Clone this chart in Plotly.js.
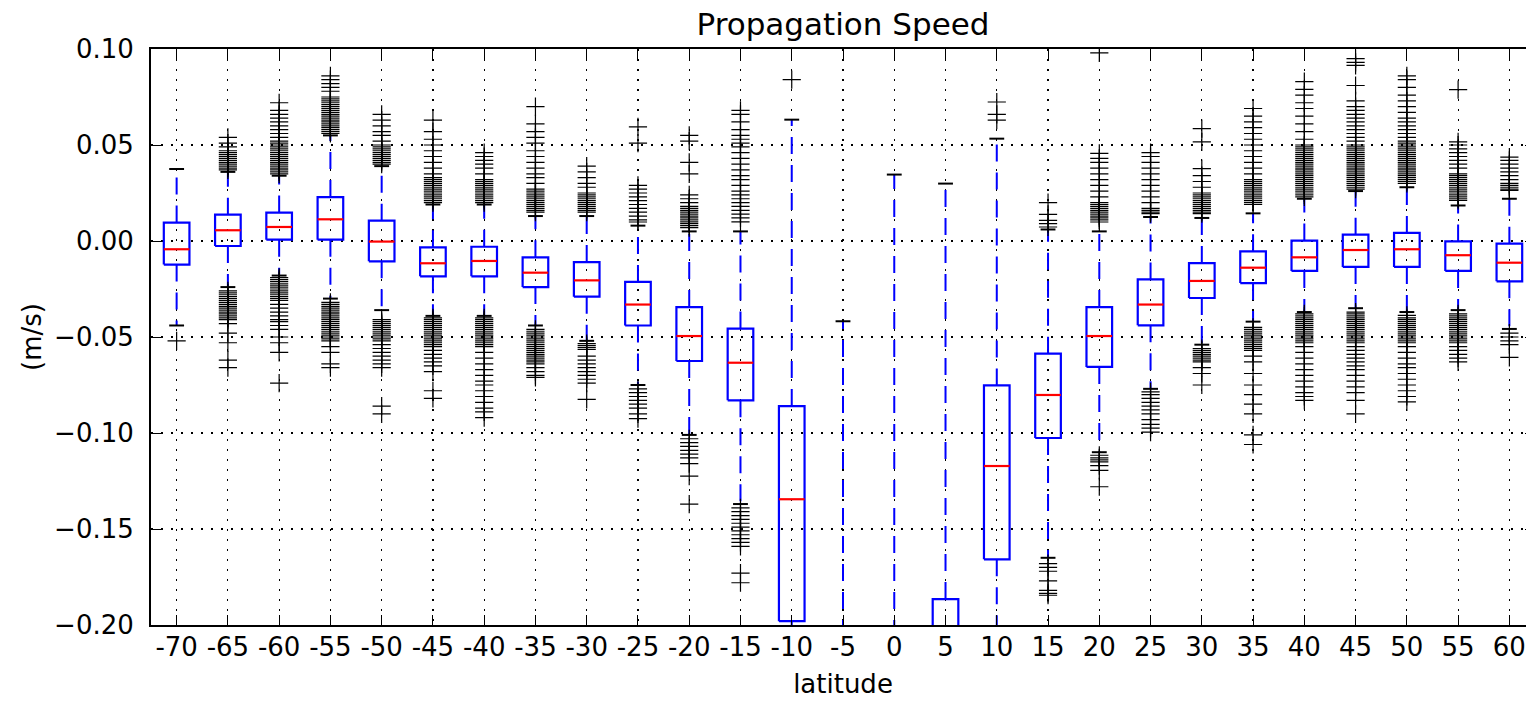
<!DOCTYPE html>
<html>
<head>
<meta charset="utf-8">
<script src="https://cdn.plot.ly/plotly-3.0.1.min.js"></script>
<style>
html,body{margin:0;padding:0;overflow:hidden;background:#fff;}
#chart{width:1535px;height:702px;}
</style>
</head>
<body>
<div id="chart"></div>
<script>
// ---- data (m/s) ----
const categories = ['-70','-65','-60','-55','-50','-45','-40','-35','-30','-25','-20','-15','-10','-5','0','5','10','15','20','25','30','35','40','45','50','55','60'];
const q1Values     = [-0.0123,-0.0026, 0.0007, 0.0007,-0.0106,-0.0184,-0.0184,-0.0240,-0.0290,-0.0440,-0.0625,-0.0830,-0.1980,-0.350,-0.350,-0.280,-0.1658,-0.1026,-0.0656,-0.0439,-0.0297,-0.0219,-0.0156,-0.0135,-0.0135,-0.0156,-0.0210];
const medianValues = [-0.0043, 0.0056, 0.0073, 0.0113,-0.0003,-0.0116,-0.0104,-0.0165,-0.0205,-0.0331,-0.0495,-0.0634,-0.1345,-0.300,-0.300,-0.230,-0.1172,-0.0802,-0.0495,-0.0331,-0.0208,-0.0139,-0.0085,-0.0047,-0.0043,-0.0074,-0.0113];
const q3Values     = [ 0.0096, 0.0137, 0.0148, 0.0229, 0.0106,-0.0033,-0.0030,-0.0085,-0.0110,-0.0213,-0.0344,-0.0456,-0.0860,-0.250,-0.250,-0.1865,-0.0752,-0.0587,-0.0344,-0.0200,-0.0115,-0.0054, 0.0002, 0.0033, 0.0042,-0.0002,-0.0014];
const lowerWhisker = [-0.0440,-0.0240,-0.0180,-0.0300,-0.0360,-0.0390,-0.0390,-0.0440,-0.0520,-0.0750,-0.1010,-0.1370,-0.300,-0.500,-0.500,-0.400,-0.250,-0.1650,-0.1100,-0.0770,-0.0540,-0.0420,-0.0370,-0.0350,-0.0370,-0.0360,-0.0458];
const upperWhisker = [ 0.0375, 0.0360, 0.0340, 0.0550, 0.0390, 0.0190, 0.0190, 0.0130, 0.0130, 0.0080, 0.0050, 0.0050, 0.0632,-0.0418, 0.0346, 0.0299, 0.0533, 0.0060, 0.0050, 0.0125, 0.0120, 0.0144, 0.0220, 0.0260, 0.0280, 0.0185, 0.0220];

const fliers = [
 [-0.052],
 [0.054,0.051,0.049,0.047,0.046,0.045,0.044,0.043,0.042,0.041,0.040,0.039,0.038,0.037,-0.026,-0.027,-0.028,-0.029,-0.030,-0.031,-0.032,-0.033,-0.034,-0.035,-0.036,-0.037,-0.038,-0.039,-0.040,-0.041,-0.043,-0.048,-0.053,-0.062,-0.066],
 [0.072,0.068,0.066,0.064,0.062,0.060,0.058,0.056,0.054,0.052,0.051,0.050,0.049,0.048,0.047,0.046,0.045,0.044,0.043,0.042,0.041,0.040,0.039,0.038,0.037,0.036,0.035,-0.019,-0.020,-0.021,-0.022,-0.023,-0.024,-0.025,-0.026,-0.027,-0.028,-0.029,-0.030,-0.031,-0.033,-0.035,-0.037,-0.039,-0.041,-0.042,-0.044,-0.046,-0.050,-0.053,-0.058,-0.074],
 [0.086,0.084,0.082,0.080,0.078,0.075,0.074,0.073,0.072,0.071,0.070,0.069,0.068,0.067,0.066,0.065,0.064,0.063,0.062,0.061,0.060,0.059,0.058,0.057,0.056,-0.032,-0.033,-0.034,-0.035,-0.036,-0.037,-0.038,-0.039,-0.040,-0.041,-0.042,-0.043,-0.044,-0.045,-0.046,-0.047,-0.048,-0.049,-0.050,-0.051,-0.052,-0.055,-0.058,-0.064,-0.066],
 [0.066,0.063,0.060,0.057,0.055,0.052,0.050,0.049,0.048,0.047,0.046,0.045,0.044,0.043,0.042,0.041,0.040,-0.041,-0.042,-0.043,-0.044,-0.045,-0.046,-0.047,-0.048,-0.049,-0.050,-0.051,-0.052,-0.054,-0.056,-0.058,-0.060,-0.062,-0.064,-0.066,-0.086,-0.090],
 [0.063,0.057,0.053,0.050,0.047,0.044,0.041,0.038,0.035,0.033,0.032,0.031,0.030,0.029,0.028,0.027,0.026,0.025,0.024,0.023,0.022,0.021,0.020,-0.040,-0.041,-0.042,-0.043,-0.044,-0.045,-0.046,-0.047,-0.048,-0.049,-0.050,-0.051,-0.052,-0.053,-0.054,-0.055,-0.057,-0.059,-0.061,-0.063,-0.065,-0.068,-0.078,-0.082],
 [0.046,0.044,0.042,0.040,0.038,0.035,0.032,0.031,0.030,0.029,0.028,0.027,0.026,0.025,0.024,0.023,0.022,0.021,0.020,-0.040,-0.041,-0.042,-0.043,-0.044,-0.045,-0.046,-0.047,-0.048,-0.049,-0.050,-0.051,-0.052,-0.053,-0.054,-0.055,-0.058,-0.061,-0.064,-0.067,-0.070,-0.073,-0.075,-0.078,-0.081,-0.084,-0.087,-0.089,-0.092],
 [0.070,0.061,0.057,0.054,0.051,0.047,0.044,0.041,0.038,0.035,0.033,0.030,0.027,0.026,0.025,0.024,0.023,0.022,0.021,0.020,0.019,0.018,0.017,0.016,0.015,-0.046,-0.047,-0.048,-0.049,-0.050,-0.051,-0.052,-0.053,-0.054,-0.055,-0.056,-0.057,-0.058,-0.059,-0.060,-0.061,-0.062,-0.063,-0.064,-0.066,-0.068,-0.070,-0.071],
 [0.039,0.036,0.033,0.030,0.028,0.025,0.024,0.023,0.022,0.021,0.020,0.019,0.018,0.017,0.016,0.015,-0.0535,-0.0545,-0.0555,-0.0565,-0.060,-0.062,-0.064,-0.066,-0.068,-0.070,-0.072,-0.074,-0.0825],
 [0.0594,0.051,0.029,0.027,0.025,0.023,0.021,0.019,0.017,0.015,0.013,0.011,0.0099,-0.077,-0.079,-0.081,-0.083,-0.085,-0.087,-0.090,-0.0925],
 [0.055,0.052,0.041,0.035,0.024,0.022,0.020,0.018,0.017,0.016,0.015,0.014,0.013,0.012,0.011,0.010,0.009,0.008,0.007,-0.103,-0.105,-0.107,-0.109,-0.111,-0.113,-0.116,-0.1225,-0.137],
 [0.068,0.066,0.062,0.058,0.055,0.053,0.051,0.049,0.046,0.043,0.040,0.037,0.034,0.032,0.029,0.026,0.024,0.022,0.020,0.018,0.016,0.014,0.012,0.010,-0.139,-0.141,-0.143,-0.145,-0.147,-0.149,-0.151,-0.153,-0.155,-0.157,-0.159,-0.173,-0.178],
 [0.084],
 [],
 [],
 [],
 [0.0724,0.066,0.063],
 [0.020,0.0139,0.0107,0.009,0.0073,-0.168,-0.170,-0.172,-0.177,-0.182,-0.1835,-0.1845],
 [0.098,0.0456,0.043,0.041,0.038,0.035,0.032,0.029,0.026,0.023,0.020,0.019,0.018,0.017,0.016,0.015,0.014,0.013,0.012,0.011,0.0099,-0.1116,-0.113,-0.114,-0.115,-0.117,-0.1195,-0.128],
 [0.046,0.044,0.041,0.038,0.035,0.032,0.029,0.026,0.023,0.020,0.017,0.016,0.015,0.0143,-0.0786,-0.080,-0.082,-0.084,-0.086,-0.088,-0.090,-0.093,-0.0955,-0.0975,-0.0995],
 [0.0585,0.0516,0.0377,0.034,0.031,0.028,0.025,0.024,0.023,0.022,0.021,0.020,0.019,0.018,0.017,0.016,0.015,0.0143,-0.056,-0.057,-0.058,-0.059,-0.060,-0.061,-0.062,-0.063,-0.066,-0.069,-0.075],
 [0.069,0.065,0.062,0.059,0.056,0.053,0.050,0.047,0.044,0.041,0.038,0.035,0.032,0.031,0.030,0.029,0.028,0.027,0.026,0.025,0.024,0.023,0.022,0.021,0.020,0.019,-0.045,-0.046,-0.047,-0.048,-0.049,-0.050,-0.051,-0.052,-0.053,-0.054,-0.055,-0.056,-0.057,-0.060,-0.063,-0.069,-0.075,-0.080,-0.085,-0.090,-0.101,-0.106],
 [0.083,0.079,0.076,0.072,0.069,0.065,0.061,0.057,0.053,0.050,0.049,0.048,0.047,0.046,0.045,0.044,0.043,0.042,0.041,0.040,0.039,0.038,0.037,0.036,0.035,0.034,0.033,0.032,0.031,0.030,0.029,0.028,0.027,0.026,0.025,0.024,0.023,-0.038,-0.039,-0.040,-0.041,-0.042,-0.043,-0.044,-0.045,-0.046,-0.047,-0.048,-0.049,-0.050,-0.051,-0.052,-0.053,-0.055,-0.058,-0.061,-0.064,-0.067,-0.070,-0.073,-0.076,-0.079,-0.081,-0.083],
 [0.095,0.093,0.0915,0.081,0.073,0.070,0.068,0.066,0.064,0.062,0.060,0.058,0.056,0.054,0.052,0.050,0.049,0.048,0.047,0.046,0.045,0.044,0.043,0.042,0.041,0.040,0.039,0.038,0.037,0.036,0.035,0.034,0.033,0.032,0.031,0.030,0.029,0.028,0.027,-0.037,-0.038,-0.039,-0.040,-0.041,-0.042,-0.043,-0.044,-0.045,-0.046,-0.047,-0.048,-0.049,-0.050,-0.051,-0.052,-0.053,-0.055,-0.057,-0.059,-0.061,-0.063,-0.065,-0.067,-0.070,-0.073,-0.076,-0.079,-0.083,-0.090],
 [0.086,0.084,0.080,0.076,0.073,0.070,0.067,0.064,0.062,0.060,0.058,0.056,0.054,0.052,0.051,0.050,0.049,0.048,0.047,0.046,0.045,0.044,0.043,0.042,0.041,0.040,0.039,0.038,0.037,0.036,0.035,0.034,0.033,0.032,0.031,0.030,-0.0387,-0.040,-0.041,-0.042,-0.043,-0.044,-0.045,-0.046,-0.047,-0.048,-0.049,-0.050,-0.051,-0.052,-0.053,-0.055,-0.058,-0.061,-0.064,-0.066,-0.069,-0.072,-0.075,-0.078,-0.081,-0.0838],
 [0.0788,0.0516,0.050,0.048,0.046,0.044,0.042,0.040,0.038,0.035,0.034,0.033,0.032,0.031,0.030,0.029,0.028,0.027,0.026,0.025,0.024,0.023,0.022,0.0212,-0.038,-0.039,-0.040,-0.041,-0.042,-0.043,-0.044,-0.045,-0.046,-0.047,-0.048,-0.049,-0.050,-0.051,-0.052,-0.053,-0.055,-0.057,-0.059,-0.061,-0.063],
 [0.0437,0.042,0.040,0.038,0.036,0.034,0.032,0.030,0.029,0.028,0.027,0.0264,-0.048,-0.050,-0.052,-0.054,-0.0606]
];

const yTickValues = [-0.20,-0.15,-0.10,-0.05,0.00,0.05,0.10];
const yTickLabels = ['\u22120.20','\u22120.15','\u22120.10','\u22120.05','0.00','0.05','0.10'];

// ---- build marks ----
const HALF_BOX = 0.25, HALF_CAP = 0.145;
const boxX=[], boxY=[], medX=[], medY=[], whiskX=[], whiskY=[], capX=[], capY=[], flX=[], flY=[];
categories.forEach((c,i)=>{
  boxX.push(i-HALF_BOX,i+HALF_BOX,i+HALF_BOX,i-HALF_BOX,i-HALF_BOX,null);
  boxY.push(q1Values[i],q1Values[i],q3Values[i],q3Values[i],q1Values[i],null);
  medX.push(i-HALF_BOX,i+HALF_BOX,null);
  medY.push(medianValues[i],medianValues[i],null);
  whiskX.push(i,i,null,i,i,null);
  whiskY.push(q3Values[i],upperWhisker[i],null,q1Values[i],lowerWhisker[i],null);
  capX.push(i-HALF_CAP,i+HALF_CAP,null,i-HALF_CAP,i+HALF_CAP,null);
  capY.push(upperWhisker[i],upperWhisker[i],null,lowerWhisker[i],lowerWhisker[i],null);
  fliers[i].forEach(v=>{flX.push(i); flY.push(v);});
});

const traces = [
  {type:'scatter',mode:'lines',x:whiskX,y:whiskY,line:{color:'#0000ff',width:2,dash:'17px,11px'},hoverinfo:'skip'},
  {type:'scatter',mode:'lines',x:boxX,y:boxY,line:{color:'#0000ff',width:2.2},hoverinfo:'skip'},
  {type:'scatter',mode:'lines',x:medX,y:medY,line:{color:'#ff0000',width:2.2},hoverinfo:'skip'},
  {type:'scatter',mode:'lines',x:capX,y:capY,line:{color:'#000000',width:2},hoverinfo:'skip'},
  {type:'scatter',mode:'markers',x:flX,y:flY,marker:{symbol:'cross-thin-open',size:13,color:'#000',line:{color:'#000',width:1.2}},hoverinfo:'skip'}
];

const FONT = 'DejaVu Sans, Bitstream Vera Sans, sans-serif';
const layout = {
  width:1535, height:702,
  margin:{l:151, r:0, t:49, b:77},
  paper_bgcolor:'#fff', plot_bgcolor:'#fff',
  showlegend:false,
  font:{family:FONT, size:26, color:'#000'},
  title:{text:'Propagation Speed', font:{family:FONT,size:31,color:'#000'}, x:0.5, xref:'paper', xanchor:'center', y:0.966, yref:'container', yanchor:'middle'},
  xaxis:{
    range:[-0.5, categories.length-0.5],
    tickmode:'array', tickvals:categories.map((c,i)=>i), ticktext:categories,
    ticks:'inside', ticklen:10, tickwidth:1, tickcolor:'#000',
    showline:true, linecolor:'#000', linewidth:2, mirror:'ticks',
    showgrid:true, gridcolor:'#000', gridwidth:1.2, griddash:'2px,8px',
    zeroline:false, ticklabelstandoff:-2,
    tickfont:{family:FONT,size:26,color:'#000'},
    title:{text:'latitude', font:{family:FONT,size:26,color:'#000'}, standoff:14}
  },
  yaxis:{
    range:[-0.20, 0.10],
    tickmode:'array', tickvals:yTickValues, ticktext:yTickLabels,
    ticks:'inside', ticklen:10, tickwidth:1, tickcolor:'#000',
    showline:true, linecolor:'#000', linewidth:2, mirror:'ticks',
    showgrid:true, gridcolor:'#000', gridwidth:1.2, griddash:'2px,8px',
    zeroline:false, ticklabelstandoff:10,
    tickfont:{family:FONT,size:26,color:'#000'},
    title:{text:'(m/s)', font:{family:FONT,size:26,color:'#000'}, standoff:5}
  }
};

Plotly.newPlot('chart', traces, layout, {displayModeBar:false, staticPlot:true});
</script>
</body>
</html>
